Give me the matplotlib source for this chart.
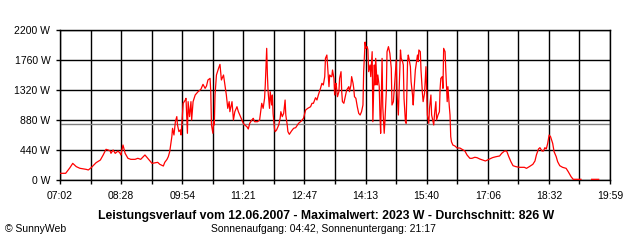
import numpy as np
import matplotlib
matplotlib.use('Agg')
import matplotlib.pyplot as plt

plt.rcParams['font.family'] = ['Liberation Sans', 'DejaVu Sans']

#%% data (minute of day, watt)
minutes = [422, 430, 436, 440, 445, 450, 459, 462, 466, 473,
           479, 483, 487, 490, 493, 494, 497, 500, 504, 507,
           508, 511, 514, 518, 522, 528, 532, 536, 542, 546,
           552, 560, 563, 568, 570, 573, 575, 577, 580, 581,
           583, 585, 587, 588, 590, 592, 593, 594, 596, 599,
           600, 602, 603, 605, 607, 608, 610, 613, 617, 621,
           624, 627, 629, 631, 634, 635, 636, 638, 639, 640,
           641, 643, 646, 648, 650, 653, 655, 657, 659, 661,
           662, 665, 667, 669, 672, 674, 676, 679, 681, 683,
           686, 688, 690, 693, 695, 697, 701, 704, 707, 709,
           711, 712, 713, 714, 715, 716, 718, 719, 721, 722,
           723, 725, 726, 728, 731, 733, 734, 736, 738, 740,
           741, 743, 744, 746, 749, 752, 755, 759, 763, 766,
           769, 772, 776, 778, 780, 783, 785, 787, 790, 792,
           794, 796, 797, 798, 799, 801, 802, 803, 805, 806,
           807, 809, 810, 811, 812, 814, 816, 817, 819, 820,
           821, 823, 825, 827, 830, 831, 833, 834, 836, 837,
           838, 840, 842, 844, 846, 848, 850, 851, 853, 854,
           856, 857, 858, 860, 861, 863, 864, 866, 867, 868,
           870, 871, 873, 874, 875, 876, 877, 878, 880, 881,
           883, 884, 886, 887, 888, 890, 891, 893, 895, 897,
           898, 900, 901, 903, 904, 906, 907, 908, 910, 911,
           913, 914, 915, 917, 918, 920, 921, 922, 924, 925,
           927, 928, 929, 931, 932, 934, 935, 937, 939, 940,
           941, 943, 944, 946, 947, 949, 950, 951, 953, 954,
           956, 958, 959, 960, 962, 963, 964, 966, 967, 969,
           970, 972, 973, 974, 975, 977, 980, 983, 987, 990,
           994, 997, 1001, 1004, 1008, 1011, 1015, 1019, 1023, 1028,
           1033, 1038, 1043, 1046, 1050, 1053, 1056, 1059, 1062, 1066,
           1071, 1078, 1081, 1085, 1090, 1093, 1095, 1098, 1100, 1103,
           1105, 1107, 1109, 1111, 1113, 1115, 1118, 1120, 1123, 1125,
           1128, 1132, 1137, 1140, 1144, 1147, 1158, 1165, 1173, 1183]
watt = [98, 98, 180, 244, 196, 172, 156, 147, 180, 254,
        293, 367, 450, 440, 425, 391, 440, 391, 425, 391,
        367, 513, 391, 318, 303, 303, 318, 303, 367, 318,
        244, 259, 230, 205, 259, 300, 342, 416, 636, 758,
        660, 855, 930, 807, 709, 735, 660, 807, 1125, 1173,
        1198, 685, 1149, 929, 1149, 880, 1149, 1247, 1295, 1330,
        1403, 1344, 1380, 1467, 1491, 1295, 807, 685, 855, 807,
        1247, 1540, 1638, 1696, 1467, 1540, 1393, 1247, 1051, 1149,
        1002, 1149, 880, 1002, 1075, 1002, 953, 880, 831, 807,
        782, 748, 831, 880, 905, 855, 855, 880, 1125, 1051,
        1198, 1393, 1662, 1931, 1540, 1295, 1051, 1295, 1100, 1247,
        978, 758, 709, 734, 807, 905, 1002, 929, 978, 1173,
        953, 807, 709, 670, 718, 758, 768, 831, 866, 905,
        1026, 1051, 1075, 1125, 1125, 1207, 1173, 1247, 1344, 1418,
        1393, 1516, 1784, 1809, 1833, 1516, 1369, 1540, 1516, 1516,
        1613, 1491, 1247, 1393, 1418, 1222, 1295, 1491, 1589, 1295,
        1149, 1125, 1222, 1320, 1369, 1295, 1393, 1516, 1418, 1344,
        1222, 1198, 1075, 978, 953, 1002, 1100, 1589, 2023, 1931,
        1956, 1907, 1589, 1687, 1516, 1882, 855, 1687, 1393, 1784,
        1393, 1540, 1369, 953, 685, 1222, 1784, 1075, 685, 855,
        1295, 1882, 1956, 1907, 1858, 1638, 1100, 1149, 1442, 1760,
        1295, 953, 1295, 1907, 1784, 1736, 1687, 1198, 855, 831,
        1736, 1833, 1784, 1662, 1442, 1247, 1100, 1295, 1613, 1687,
        1833, 1736, 1907, 1882, 1613, 1271, 1149, 1271, 1662, 1320,
        953, 831, 1051, 1247, 953, 855, 807, 953, 1149, 880,
        953, 1002, 1344, 1491, 1516, 1344, 1931, 1882, 1613, 1149,
        1369, 1075, 953, 636, 562, 513, 498, 469, 469, 450,
        425, 367, 318, 318, 333, 328, 308, 293, 279, 303,
        328, 342, 352, 391, 425, 425, 342, 269, 210, 196,
        186, 186, 171, 196, 230, 279, 367, 455, 474, 425,
        425, 474, 455, 538, 660, 636, 538, 416, 342, 269,
        210, 186, 171, 122, 49, 10, 10, np.nan, 10, 10]

start_min = 422   # 07:02
end_min = 1199    # 19:59
tick_labels = ['07:02', '08:28', '09:54', '11:21', '12:47',
               '14:13', '15:40', '17:06', '18:32', '19:59']
y_ticks = [0, 440, 880, 1320, 1760, 2200]
durchschnitt = 826

#%% plot
fig = plt.figure(figsize=(6.4, 2.4), dpi=100)
ax = fig.add_axes([60/640, 60/240, 550/640, 150/240])

all_ticks = np.linspace(start_min, end_min, 19)
ax.set_xticks(all_ticks[::2])
ax.set_xticklabels(tick_labels)
ax.set_xticks(all_ticks[1::2], minor=True)
ax.set_yticks(y_ticks)
ax.set_yticklabels([f'{v} W' for v in y_ticks])
ax.set_xlim(start_min, end_min)
ax.set_ylim(0, 2200)

ax.grid(which='both', color='black', lw=1.0)
ax.axhline(durchschnitt, color='#808080', lw=1.0, zorder=2.5)
ax.plot(minutes, watt, color='red', lw=0.9, zorder=3)

ax.tick_params(axis='x', which='both', length=3, width=1, pad=5, labelsize=7.5, direction='out')
ax.tick_params(axis='y', length=3, width=1, pad=4, labelsize=7.5)
for s in ax.spines.values():
    s.set_linewidth(1.0)

fig.text(0.509, 1-216/240, 'Leistungsverlauf vom 12.06.2007 - Maximalwert: 2023 W - Durchschnitt: 826 W',
         ha='center', va='center', fontsize=8.8, fontweight='bold')
fig.text(0.505, 1-229/240, 'Sonnenaufgang: 04:42, Sonnenuntergang: 21:17',
         ha='center', va='center', fontsize=7.5)
fig.text(5/640, 1-229/240, '\u00a9 SunnyWeb', ha='left', va='center', fontsize=7.5)

fig.savefig('out.png', dpi=100)
